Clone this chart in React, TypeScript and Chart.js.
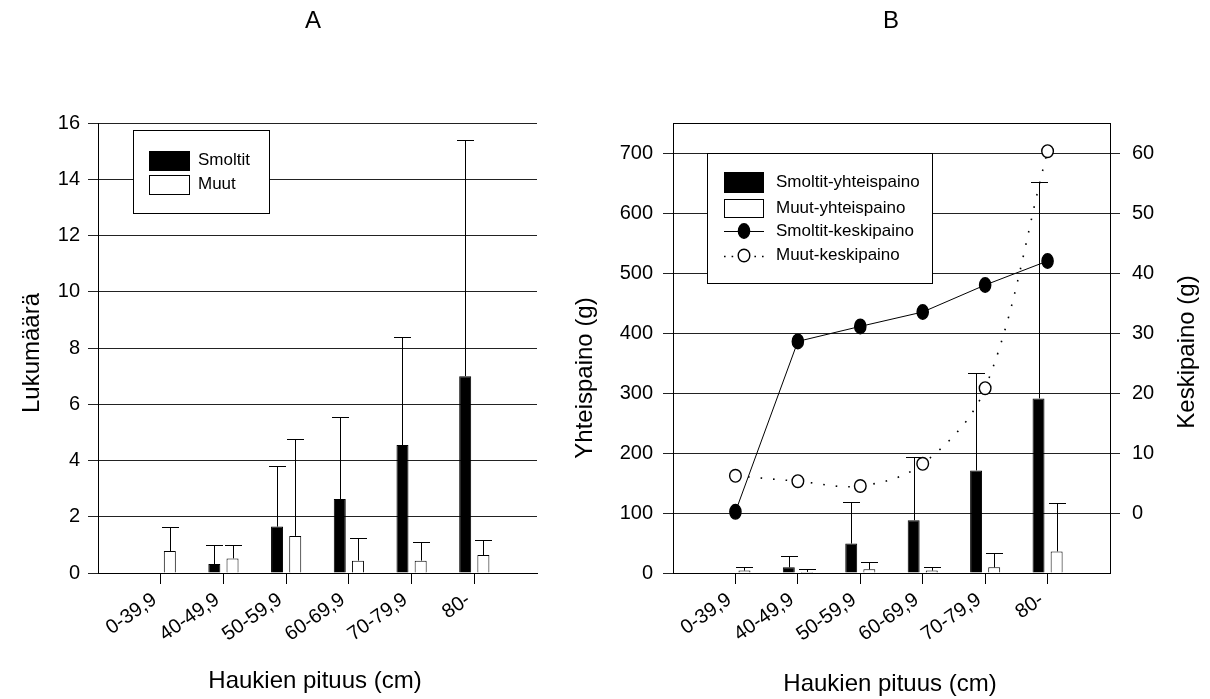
import React, { useEffect, useRef } from 'react';
import { Chart, registerables } from 'chart.js';

Chart.register(...registerables);

const FONT = '"Liberation Sans", Arial, Helvetica, sans-serif';

// ---------- data ----------
const categories = ['0-39,9', '40-49,9', '50-59,9', '60-69,9', '70-79,9', '80-'];

// Panel A: counts (Lukumäärä)
const smoltitCount = [0, 0.32, 1.65, 2.63, 4.55, 7.0];
const smoltitCountErr = [null, 0.68, 2.17, 2.9, 3.83, 8.4];
const muutCount = [0.78, 0.52, 1.32, 0.44, 0.44, 0.64];
const muutCountErr = [0.87, 0.48, 3.43, 0.79, 0.66, 0.53];

// Panel B: total weight (Yhteispaino, g)
const smoltitTotal = [0, 9.4, 49, 88, 171, 291];
const smoltitTotalErr = [null, 18.4, 68.8, 106, 163, 360];
const muutTotal = [4, 1.7, 6.1, 4, 9.4, 36];
const muutTotalErr = [5.4, 4.4, 12.2, 5.4, 23.9, 80.7];

// Panel B: mean weight (Keskipaino, g)
const smoltitMean = [0.2, 28.6, 31.1, 33.5, 38.0, 42.0];
const muutMean = [6.2, 5.3, 4.5, 8.2, 20.8, 60.3];

// ---------- helpers ----------
const toPoints = (values: number[]) => values.map((v, i) => ({ x: i + 1, y: v }));

function drawMarker(ctx: CanvasRenderingContext2D, x: number, y: number, filled: boolean) {
  ctx.save();
  ctx.beginPath();
  if (filled) ctx.ellipse(x, y, 5.6, 7.3, 0, 0, Math.PI * 2);
  else ctx.ellipse(x, y, 5.8, 6.3, 0, 0, Math.PI * 2);
  ctx.fillStyle = filled ? '#000' : '#fff';
  ctx.fill();
  ctx.setLineDash([]);
  ctx.lineWidth = 1.4;
  ctx.strokeStyle = '#000';
  ctx.stroke();
  ctx.restore();
}

const errorBarsPlugin = {
  id: 'errorBars',
  afterDatasetDraw(chart: any, args: any) {
    const ds = chart.data.datasets[args.index];
    const meta = args.meta;
    const ctx = chart.ctx as CanvasRenderingContext2D;
    if (ds.markerFilled !== undefined) {
      meta.data.forEach((el: any) => drawMarker(ctx, el.x, el.y, ds.markerFilled));
      return;
    }
    const errs = ds.errorUpper;
    if (!errs) return;
    const yScale = chart.scales[meta.yAxisID];
    const half = (ds.errorCap || 17) / 2;
    ctx.save();
    ctx.strokeStyle = '#000';
    ctx.lineWidth = 1;
    meta.data.forEach((el: any, i: number) => {
      const e = errs[i];
      if (e == null) return;
      const v = ds.data[i].y;
      const x = Math.round(el.x) + 0.5;
      const yBar = yScale.getPixelForValue(v);
      const yTop = Math.round(yScale.getPixelForValue(v + e)) + 0.5;
      ctx.beginPath();
      ctx.moveTo(x, yBar);
      ctx.lineTo(x, yTop);
      ctx.moveTo(x - half, yTop);
      ctx.lineTo(x + half, yTop);
      ctx.stroke();
    });
    ctx.restore();
  },
};

type LegendItem =
  | { kind: 'box'; label: string; y: number; h: number; fill: string }
  | { kind: 'line'; label: string; y: number; dash: number[]; width: number; filled: boolean };

function makeLegendPlugin(cfg: {
  box: { x: number; y: number; w: number; h: number };
  swatchX: number;
  swatchW: number;
  textX: number;
  fontSize: number;
  items: LegendItem[];
}) {
  return {
    id: 'boxLegend',
    afterDatasetsDraw(chart: any) {
      const ctx = chart.ctx as CanvasRenderingContext2D;
      const { box, swatchX, swatchW, textX, items, fontSize } = cfg;
      ctx.save();
      ctx.fillStyle = '#fff';
      ctx.fillRect(box.x, box.y, box.w, box.h);
      ctx.strokeStyle = '#000';
      ctx.lineWidth = 1;
      ctx.strokeRect(box.x + 0.5, box.y + 0.5, box.w, box.h);
      ctx.font = `${fontSize}px ${FONT}`;
      ctx.textBaseline = 'middle';
      ctx.textAlign = 'left';
      items.forEach((it) => {
        if (it.kind === 'box') {
          const top = Math.round(it.y - it.h / 2);
          ctx.fillStyle = it.fill;
          ctx.fillRect(swatchX, top, swatchW, it.h);
          ctx.strokeStyle = '#000';
          ctx.lineWidth = 1;
          ctx.strokeRect(swatchX + 0.5, top + 0.5, swatchW - 1, it.h - 1);
        } else {
          ctx.save();
          ctx.strokeStyle = '#000';
          ctx.lineWidth = it.width;
          ctx.setLineDash(it.dash);
          ctx.beginPath();
          ctx.moveTo(swatchX, Math.round(it.y) + 0.5);
          ctx.lineTo(swatchX + swatchW, Math.round(it.y) + 0.5);
          ctx.stroke();
          ctx.restore();
          drawMarker(ctx, swatchX + swatchW / 2, it.y, it.filled);
        }
        ctx.fillStyle = '#000';
        ctx.fillText(it.label, textX, it.y);
      });
      ctx.restore();
    },
  };
}

type TitleItem = { text: string; x: number; y: number; rotate?: boolean; size: number };

function makeTitlesPlugin(items: TitleItem[], frameTop: boolean) {
  return {
    id: 'panelTitles',
    afterDraw(chart: any) {
      const ctx = chart.ctx as CanvasRenderingContext2D;
      ctx.save();
      if (frameTop) {
        const a = chart.chartArea;
        ctx.strokeStyle = '#000';
        ctx.lineWidth = 1;
        ctx.beginPath();
        ctx.moveTo(a.left, Math.round(a.top) + 0.5);
        ctx.lineTo(a.right, Math.round(a.top) + 0.5);
        ctx.stroke();
      }
      ctx.fillStyle = '#000';
      ctx.textAlign = 'center';
      ctx.textBaseline = 'alphabetic';
      items.forEach((t) => {
        ctx.font = `${t.size}px ${FONT}`;
        if (t.rotate) {
          ctx.save();
          ctx.translate(t.x, t.y);
          ctx.rotate(-Math.PI / 2);
          ctx.fillText(t.text, 0, 0);
          ctx.restore();
        } else {
          ctx.fillText(t.text, t.x, t.y);
        }
      });
      ctx.restore();
    },
  };
}

const tickFont = { family: FONT, size: 20 };
const gridColor = '#222';

function xScaleOptions() {
  return {
    type: 'linear',
    min: 0,
    max: 7,
    offset: false,
    afterBuildTicks: (s: any) => {
      s.ticks = categories.map((_, i) => ({ value: i + 1 }));
    },
    afterFit: (s: any) => {
      s.height = 126;
    },
    grid: { display: true, drawOnChartArea: false, drawTicks: true, tickLength: 11, color: '#000', offset: false },
    border: { display: true, color: '#000', width: 1 },
    ticks: {
      autoSkip: false,
      minRotation: 35,
      maxRotation: 35,
      padding: 4,
      labelOffset: -6,
      color: '#000',
      font: tickFont,
      callback: (v: any) => categories[Math.round(Number(v)) - 1] ?? '',
    },
  };
}

export default function App() {
  const refA = useRef<HTMLCanvasElement>(null);
  const refB = useRef<HTMLCanvasElement>(null);

  useEffect(() => {
    document.body.style.margin = '0';

    const chartA = new Chart(refA.current!, {
      type: 'bar',
      data: {
        datasets: [
          {
            label: 'Smoltit',
            data: toPoints(smoltitCount),
            backgroundColor: '#000',
            borderColor: '#000',
            borderWidth: 1,
            categoryPercentage: 0.58,
            barPercentage: 0.66,
            errorUpper: smoltitCountErr,
            errorCap: 17,
          } as any,
          {
            label: 'Muut',
            data: toPoints(muutCount),
            backgroundColor: '#fff',
            borderColor: '#000',
            borderWidth: 1,
            categoryPercentage: 0.58,
            barPercentage: 0.66,
            errorUpper: muutCountErr,
            errorCap: 17,
          } as any,
        ],
      },
      options: {
        responsive: false,
        animation: false,
        events: [],
        layout: { padding: { left: 0, top: 123, right: 23, bottom: 0 } },
        plugins: { legend: { display: false }, tooltip: { enabled: false }, title: { display: false } },
        scales: {
          x: xScaleOptions() as any,
          y: {
            type: 'linear',
            min: 0,
            max: 16,
            afterFit: (s: any) => {
              s.width = 98;
            },
            grid: { color: gridColor, tickLength: 10, drawTicks: true },
            border: { display: true, color: '#000', width: 1 },
            ticks: { stepSize: 2, padding: 8, color: '#000', font: tickFont },
          },
        },
      },
      plugins: [
        errorBarsPlugin,
        makeLegendPlugin({
          box: { x: 133, y: 130, w: 136, h: 83 },
          swatchX: 149,
          swatchW: 41,
          textX: 198,
          fontSize: 17,
          items: [
            { kind: 'box', label: 'Smoltit', y: 160.5, h: 20, fill: '#000' },
            { kind: 'box', label: 'Muut', y: 184.7, h: 20, fill: '#fff' },
          ],
        }),
        makeTitlesPlugin(
          [
            { text: 'A', x: 313, y: 28, size: 24 },
            { text: 'Lukumäärä', x: 39, y: 353, rotate: true, size: 24 },
            { text: 'Haukien pituus (cm)', x: 315, y: 688, size: 24 },
          ],
          false
        ),
      ],
    } as any);

    const chartB = new Chart(refB.current!, {
      type: 'bar',
      data: {
        datasets: [
          {
            type: 'line',
            label: 'Smoltit-keskipaino',
            data: toPoints(smoltitMean),
            yAxisID: 'y2',
            order: 0,
            borderColor: '#000',
            borderWidth: 1,
            tension: 0,
            pointRadius: 0,
            markerFilled: true,
          } as any,
          {
            type: 'line',
            label: 'Muut-keskipaino',
            data: toPoints(muutMean),
            yAxisID: 'y2',
            order: 0,
            borderColor: '#000',
            borderWidth: 1.6,
            borderDash: [1.6, 11],
            tension: 0.35,
            pointRadius: 0,
            markerFilled: false,
          } as any,
          {
            label: 'Smoltit-yhteispaino',
            data: toPoints(smoltitTotal),
            yAxisID: 'y',
            order: 1,
            backgroundColor: '#000',
            borderColor: '#000',
            borderWidth: 1,
            categoryPercentage: 0.58,
            barPercentage: 0.66,
            errorUpper: smoltitTotalErr,
            errorCap: 17,
          } as any,
          {
            label: 'Muut-yhteispaino',
            data: toPoints(muutTotal),
            yAxisID: 'y',
            order: 1,
            backgroundColor: '#fff',
            borderColor: '#000',
            borderWidth: 1,
            categoryPercentage: 0.58,
            barPercentage: 0.66,
            errorUpper: muutTotalErr,
            errorCap: 17,
          } as any,
        ],
      },
      options: {
        responsive: false,
        animation: false,
        events: [],
        layout: { padding: { left: 0, top: 123, right: 0, bottom: 0 } },
        plugins: { legend: { display: false }, tooltip: { enabled: false }, title: { display: false } },
        scales: {
          x: xScaleOptions() as any,
          y: {
            type: 'linear',
            position: 'left',
            min: 0,
            max: 750,
            afterFit: (s: any) => {
              s.width = 113;
            },
            afterBuildTicks: (s: any) => {
              s.ticks = s.ticks.filter((t: any) => t.value >= 0 && t.value <= 700);
            },
            grid: { color: gridColor, tickLength: 10, drawTicks: true },
            border: { display: true, color: '#000', width: 1 },
            ticks: { stepSize: 100, padding: 10, color: '#000', font: tickFont },
          },
          y2: {
            type: 'linear',
            position: 'right',
            min: -10,
            max: 65,
            afterFit: (s: any) => {
              s.width = 100;
            },
            afterBuildTicks: (s: any) => {
              s.ticks = s.ticks.filter((t: any) => t.value >= 0 && t.value <= 60);
            },
            grid: { color: gridColor, tickLength: 10, drawTicks: true, drawOnChartArea: false },
            border: { display: true, color: '#000', width: 1 },
            ticks: { stepSize: 10, padding: 12, color: '#000', font: tickFont },
          },
        },
      },
      plugins: [
        errorBarsPlugin,
        makeLegendPlugin({
          box: { x: 147, y: 153, w: 225, h: 130 },
          swatchX: 164,
          swatchW: 40,
          textX: 216,
          fontSize: 17,
          items: [
            { kind: 'box', label: 'Smoltit-yhteispaino', y: 182, h: 21, fill: '#000' },
            { kind: 'box', label: 'Muut-yhteispaino', y: 208, h: 19, fill: '#fff' },
            { kind: 'line', label: 'Smoltit-keskipaino', y: 231, dash: [], width: 1, filled: true },
            { kind: 'line', label: 'Muut-keskipaino', y: 255.5, dash: [1.6, 6], width: 1.6, filled: false },
          ],
        }),
        makeTitlesPlugin(
          [
            { text: 'B', x: 331, y: 28, size: 24 },
            { text: 'Yhteispaino (g)', x: 32, y: 378, rotate: true, size: 24 },
            { text: 'Keskipaino (g)', x: 634, y: 352, rotate: true, size: 24 },
            { text: 'Haukien pituus (cm)', x: 330, y: 691, size: 24 },
          ],
          true
        ),
      ],
    } as any);

    return () => {
      chartA.destroy();
      chartB.destroy();
    };
  }, []);

  return (
    <div style={{ position: 'fixed', left: 0, top: 0, width: 1210, height: 699, background: '#fff' }}>
      <canvas ref={refA} width={560} height={699} style={{ position: 'absolute', left: 0, top: 0 }} />
      <canvas ref={refB} width={650} height={699} style={{ position: 'absolute', left: 560, top: 0 }} />
    </div>
  );
}
